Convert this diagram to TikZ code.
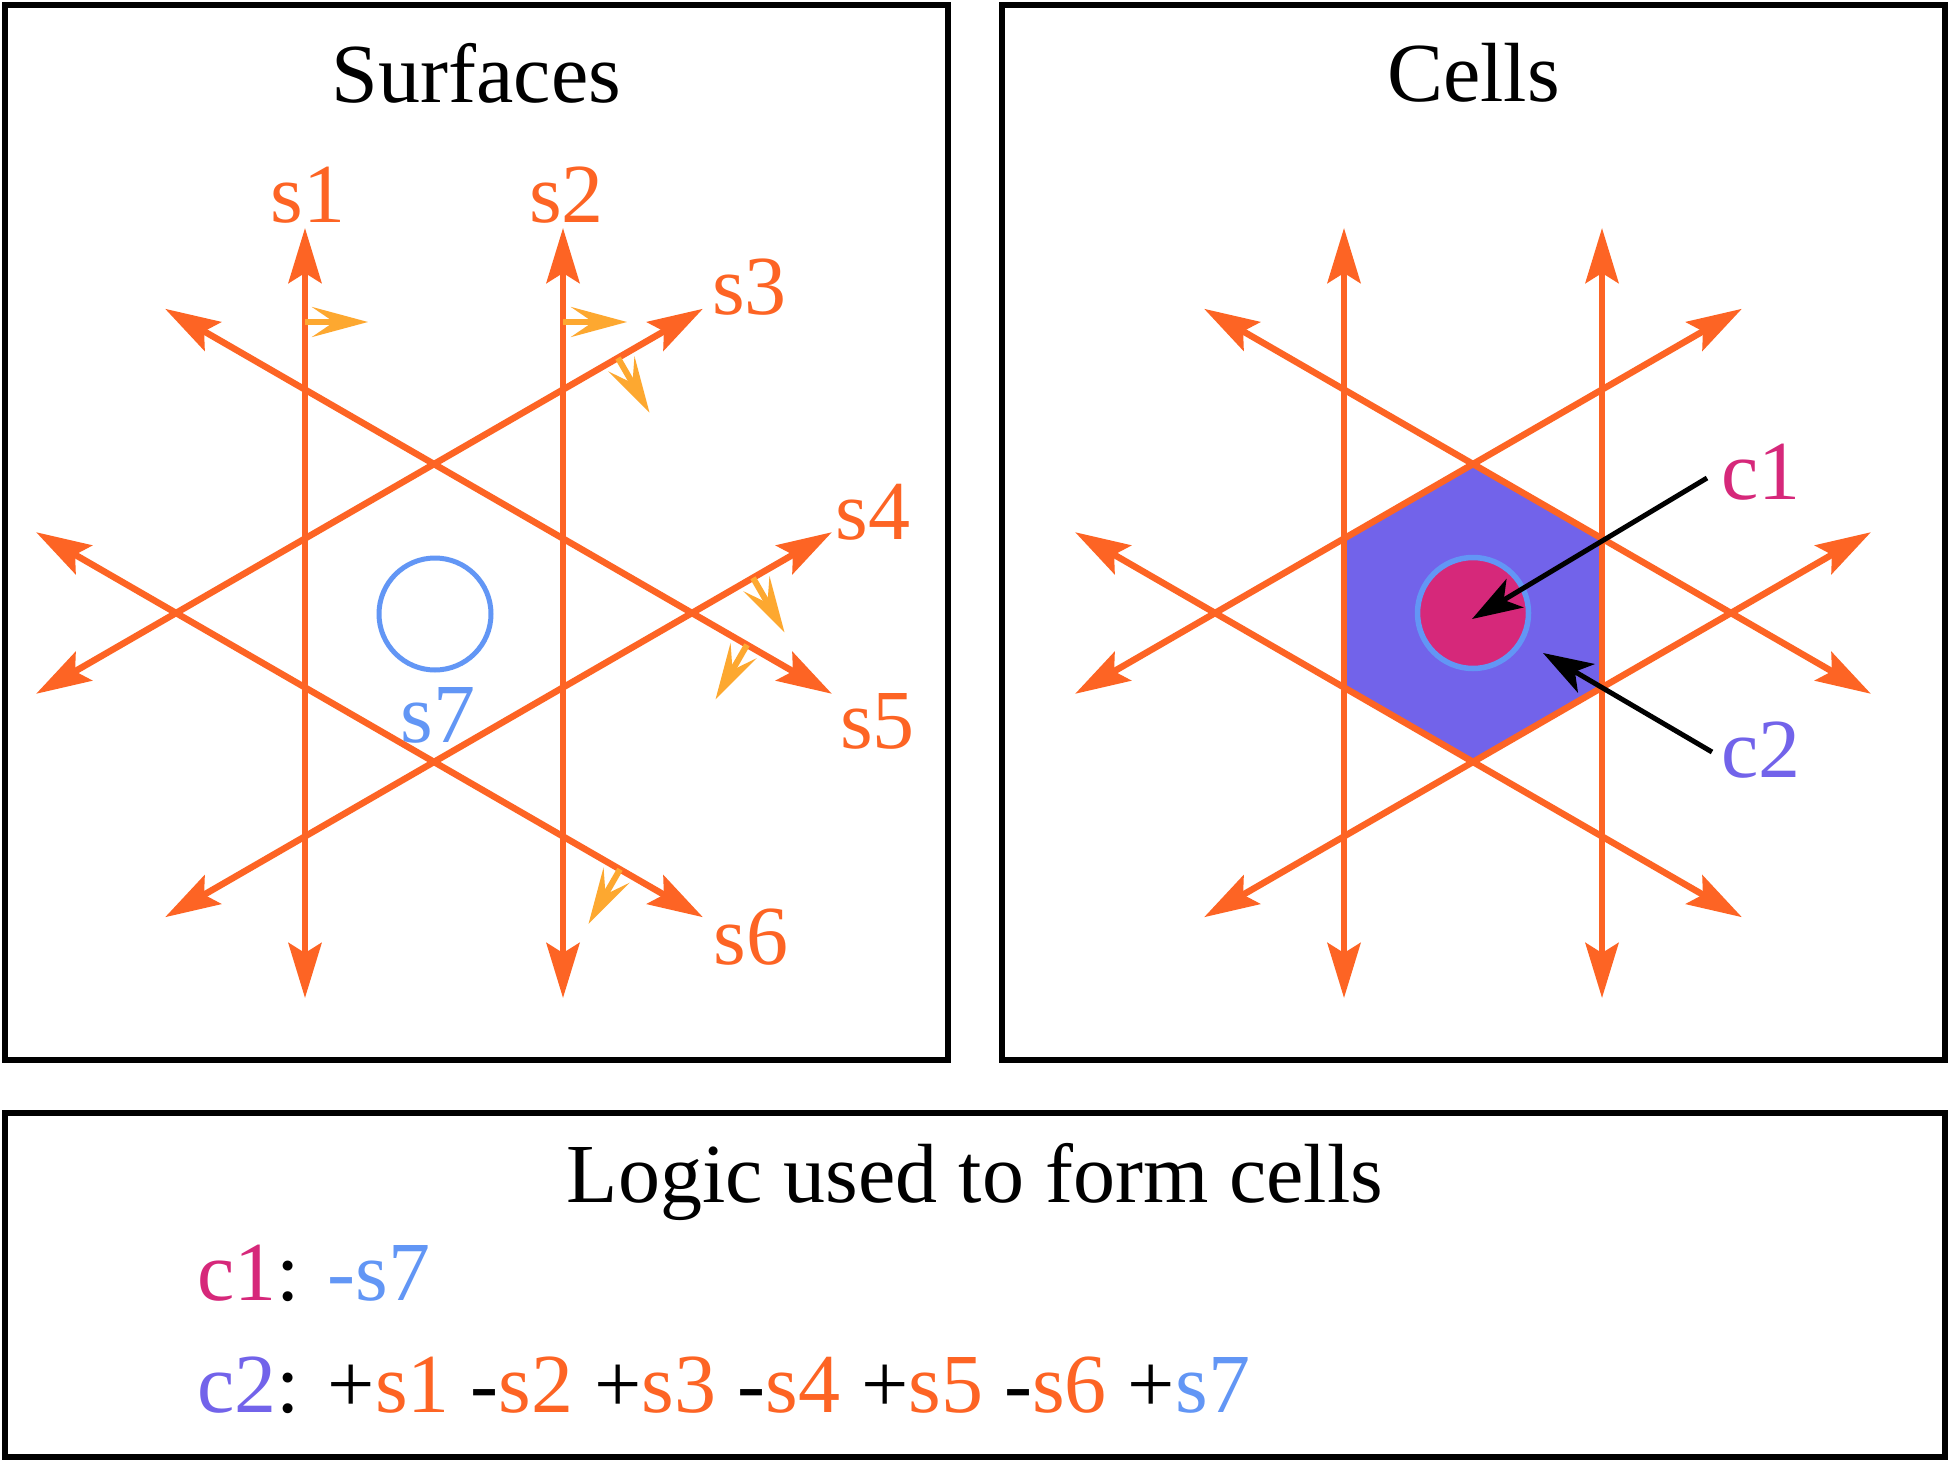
\documentclass[tikz,border=0pt]{standalone}
\usepackage{fontspec}
\setmainfont{Liberation Serif}
\usetikzlibrary{arrows.meta}
\definecolor{corng}{RGB}{253,100,36}
\definecolor{cyell}{RGB}{253,168,48}
\definecolor{cblu}{RGB}{98,150,245}
\definecolor{cpurp}{RGB}{114,99,234}
\definecolor{cpink}{RGB}{214,40,122}
\newcommand\mkstar[1]{%
  \coordinate (#1-1a) at (-129,-385); \coordinate (#1-1b) at (-129,385);
  \coordinate (#1-2a) at (129,-385);  \coordinate (#1-2b) at (129,385);
  \coordinate (#1-3a) at (268.9,-304.2); \coordinate (#1-3b) at (-397.9,80.8);
  \coordinate (#1-4a) at (397.9,-80.8);  \coordinate (#1-4b) at (-268.9,304.2);
  \coordinate (#1-5a) at (397.9,80.8);   \coordinate (#1-5b) at (-268.9,-304.2);
  \coordinate (#1-6a) at (268.9,304.2);  \coordinate (#1-6b) at (-397.9,-80.8);
  \foreach \i in {1,...,6} {\draw[surf] (#1-\i a) -- (#1-\i b);}
}
\begin{document}
\begin{tikzpicture}[x=1pt,y=-1pt,
  surf/.style={draw=corng,line width=6.5pt,>={Stealth[length=55pt,width=33pt,inset=10pt]},<->},
  ynorm/.style={draw=cyell,line width=6pt,-{Stealth[length=56pt,width=30pt,inset=22pt]}},
  ptr/.style={draw=black,line width=5pt,-{Stealth[length=50pt,width=33pt,inset=13pt]}},
  box/.style={draw=black,line width=6.5pt},
  lbl/.style={font=\fontsize{84}{100}\selectfont,inner sep=0pt,anchor=base}]
\useasboundingbox (0,0) rectangle (1950,1463);
\fill[white] (0,0) rectangle (1950,1463);
% boxes
\draw[box] (5,5) rectangle (948,1060);
\draw[box] (1002,5) rectangle (1945,1060);
\draw[box] (5,1113) rectangle (1945,1457);
% titles
\node[lbl] (tsurf) at (476.5,103) {Surfaces};
\node[lbl] (tcells) at (1473.5,102) {Cells};
% left panel
\begin{scope}[shift={(434,613)}]
  \mkstar{L}
  \coordinate (y1a) at (-129,-291);   \coordinate (y1b) at (-66,-291);
  \coordinate (y2a) at (129,-291);    \coordinate (y2b) at (193,-291);
  \coordinate (y3a) at (184,-255);    \coordinate (y3b) at (215.5,-200.4);
  \coordinate (y4a) at (319,-35.2);   \coordinate (y4b) at (350.5,19.4);
  \coordinate (y5a) at (313,31.8);    \coordinate (y5b) at (281.5,86.4);
  \coordinate (y6a) at (186,256.3);   \coordinate (y6b) at (154.5,310.9);
  \foreach \i in {1,...,6} {\draw[ynorm] (y\i a) -- (y\i b);}
  \draw[cblu,line width=5pt] (1,1) circle[radius=56];
  \node[lbl,text=corng] (ls1) at (-126,-390) {s1};
  \node[lbl,text=corng] (ls2) at (132.5,-390) {s2};
  \node[lbl,text=corng] (ls3) at (315.5,-299) {s3};
  \node[lbl,text=corng] (ls4) at (439,-74) {s4};
  \node[lbl,text=corng] (ls5) at (443.5,135) {s5};
  \node[lbl,text=corng] (ls6) at (317,351) {s6};
  \node[lbl,text=cblu] (ls7) at (4,129) {s7};
\end{scope}
% right panel
\begin{scope}[shift={(1473,613)}]
  \fill[cpurp] (0,-148.96) -- (129,-74.48) -- (129,74.48) -- (0,148.96) -- (-129,74.48) -- (-129,-74.48) -- cycle;
  \mkstar{R}
  \filldraw[fill=cpink,draw=cblu,line width=5.5pt] (0,0) circle[radius=55.5];
\end{scope}
\node[lbl,anchor=base west,text=cpink] (c1lab) at (1721,499) {c1};
\node[lbl,anchor=base west,text=cpurp] (c2lab) at (1721,777) {c2};
\coordinate (c1s) at (1707,478); \coordinate (c1e) at (1472,619);
\coordinate (c2s) at (1712,752); \coordinate (c2e) at (1543,653);
\draw[ptr] (c1s) -- (c1e);
\draw[ptr] (c2s) -- (c2e);
% bottom
\node[lbl] (logic) at (975,1202) {Logic used to form cells};
\node[lbl,anchor=base west] (c1row) at (197,1300) {\textcolor{cpink}{c1}: \textcolor{cblu}{-s7}};
\node[lbl,anchor=base west] (c2row) at (197,1412) {\textcolor{cpurp}{c2}: +\textcolor{corng}{s1} -\textcolor{corng}{s2} +\textcolor{corng}{s3} -\textcolor{corng}{s4} +\textcolor{corng}{s5} -\textcolor{corng}{s6} +\textcolor{cblu}{s7}};
\end{tikzpicture}
\end{document}
